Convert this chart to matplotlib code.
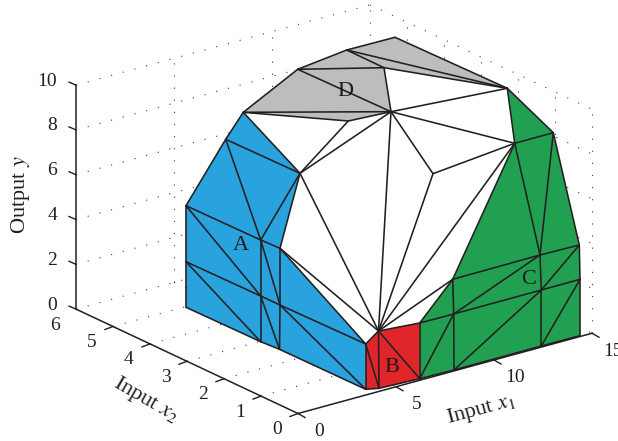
import numpy as np
import matplotlib
matplotlib.use('Agg')
import matplotlib.pyplot as plt
from matplotlib.collections import PolyCollection

plt.rcParams['font.family'] = ['Liberation Serif', 'DejaVu Serif']
plt.rcParams['mathtext.fontset'] = 'stix'

# axis ticks
x1_ticks = [0, 5, 10, 15]
x2_ticks = [0, 1, 2, 3, 4, 5, 6]
y_ticks = [0, 2, 4, 6, 8, 10]

# projected picture position of the box corner and the axis directions (per unit)
origin = np.array([298.0, 413.5])
dir_x1 = np.array([19.6, -5.35])
dir_x2 = np.array([-37.0, -17.4])
dir_y = np.array([0.0, -22.4])

# mesh vertices
P = {
    'a': (186, 205.7), 'b': (186, 261.7), 'c': (186, 307.3),
    'd': (260.7, 240), 'e': (280, 248.3), 'f': (260.7, 296), 'g': (280, 305),
    'h': (260.7, 341.7), 'i': (279.5, 349.3), 'j': (365.7, 344), 'k': (365.7, 389.3),
    'u1': (243.3, 112.3), 'u2': (225.7, 139.3), 'u3': (300, 173.3),
    'v1': (297.7, 69.3), 'v2': (346.7, 50), 'v3': (395, 37.3), 'v4': (507.3, 88.3),
    'v5': (384, 67.7), 'v6': (391, 111.7), 'v7': (348.3, 121),
    'w1': (514.7, 143.3), 'w2': (433, 173.7), 'p': (378.5, 331),
    's1': (553.3, 132.7), 's2': (579.3, 245), 's3': (580, 279.3), 's4': (580, 335.7),
    'm1': (540, 255), 'm2': (541.3, 290), 'm3': (541.3, 346),
    'n1': (452.7, 279.3), 'n2': (453.7, 314), 'n3': (454, 370),
    'r1': (419.7, 323), 'r2': (419.7, 378.7), 'r3': (379, 388.3),
}

white_outline = ['u3', 'u1', 'v7', 'v6', 'v5', 'v4', 'w1', 'n1', 'r1', 'p', 'j', 'e']
blue_outline = ['a', 'u2', 'u1', 'u3', 'e', 'j', 'k', 'i', 'h', 'c']
gray_outline = ['u1', 'v1', 'v2', 'v3', 'v4', 'v5', 'v6', 'v7']
green_outline = ['v4', 's1', 's2', 's3', 's4', 'm3', 'n3', 'r2', 'r1', 'n1', 'w1']
red_outline = ['j', 'p', 'r1', 'r2', 'r3', 'k']

edges = [
    # blue
    ('a', 'c'), ('c', 'h'), ('h', 'i'), ('i', 'k'), ('a', 'u2'), ('u2', 'u1'), ('u1', 'u3'),
    ('u2', 'u3'), ('u2', 'd'), ('u3', 'd'), ('u3', 'e'), ('a', 'd'), ('d', 'e'),
    ('a', 'f'), ('b', 'f'), ('f', 'g'), ('b', 'h'), ('d', 'f'), ('f', 'h'), ('e', 'g'), ('g', 'i'),
    ('d', 'g'), ('f', 'i'), ('g', 'j'), ('g', 'k'), ('e', 'j'), ('j', 'k'),
    # gray
    ('u1', 'v1'), ('v1', 'v2'), ('v2', 'v3'), ('v3', 'v4'), ('v2', 'v4'), ('v5', 'v4'),
    ('v2', 'v5'), ('v1', 'v5'), ('v1', 'v6'), ('v5', 'v6'), ('u1', 'v6'), ('u1', 'v7'), ('v7', 'v6'),
    # white
    ('v6', 'v4'), ('v6', 'w1'), ('v6', 'w2'), ('w2', 'w1'), ('v6', 'p'), ('w2', 'p'), ('w1', 'p'),
    ('v7', 'u3'), ('v6', 'u3'), ('u3', 'p'), ('e', 'p'), ('p', 'n1'), ('p', 'r1'), ('p', 'j'),
    # green
    ('v4', 's1'), ('v4', 'w1'), ('w1', 's1'), ('w1', 'm1'), ('s1', 'm1'), ('s1', 's2'),
    ('w1', 'n1'), ('s2', 's3'), ('s3', 's4'), ('s4', 'm3'), ('m3', 'n3'), ('n3', 'r2'),
    ('n1', 'm1'), ('m1', 's2'), ('r1', 'n2'), ('n2', 'm2'), ('m2', 's3'), ('n2', 'm1'),
    ('n3', 'm2'), ('m2', 's2'), ('m3', 's3'), ('r2', 'n2'), ('n1', 'n2'), ('n2', 'n3'),
    ('m1', 'm2'), ('m2', 'm3'), ('r1', 'r2'), ('n1', 'r1'),
    # red
    ('r2', 'r3'), ('r3', 'k'), ('j', 'r3'), ('p', 'r3'), ('p', 'r2'),
]

region_labels = ['A', 'B', 'C', 'D']
region_pos = [(241, 246), (392, 368), (529, 280), (345, 91)]


def proj(x1, x2, y):
    return origin + x1 * dir_x1 + x2 * dir_x2 + y * dir_y


def dotted(ax, start, end):
    pts = np.array([start, end])
    ax.plot(pts[:, 0], pts[:, 1], color='#3a3a3a', lw=0.8, ls=(0, (1, 9.9)), zorder=1)


fig = plt.figure(figsize=(6.18, 4.41), dpi=100)
ax = fig.add_axes([0, 0, 1, 1])
ax.set_xlim(0, 618)
ax.set_ylim(441, 0)
ax.axis('off')

# dotted grid on the back walls and the floor
for y in y_ticks:
    dotted(ax, proj(0, 6, y), proj(15, 6, y))
    dotted(ax, proj(15, 6, y), proj(15, 0, y))
for x1 in x1_ticks[1:3]:
    dotted(ax, proj(x1, 6, 0), proj(x1, 6, 10))
    dotted(ax, proj(x1, 6, 0), proj(x1, 0, 0))
for x2 in x2_ticks[1:6]:
    dotted(ax, proj(15, x2, 0), proj(15, x2, 10))
    dotted(ax, proj(0, x2, 0), proj(15, x2, 0))
dotted(ax, proj(15, 6, 0), proj(15, 6, 10))
dotted(ax, proj(15, 0, 0), proj(15, 0, 10))

# faces
outlines = [white_outline, blue_outline, gray_outline, green_outline, red_outline]
colors = ['white', '#29A3DE', '#BBBDBF', '#22A052', '#E1262B']
polys = [[P[n] for n in o] for o in outlines]
ax.add_collection(PolyCollection(polys, facecolors=colors, edgecolors='none', zorder=2))

# mesh lines
for s, t in edges:
    ax.plot([P[s][0], P[t][0]], [P[s][1], P[t][1]], color='#231F20', lw=1.15, zorder=3,
            solid_capstyle='round')

# axes lines
axis_col = '#231F20'
ends = [(proj(0, 6, 0), proj(0, 6, 10)), (proj(0, 6, 0), proj(0, 0, 0)), (proj(0, 0, 0), proj(15, 0, 0))]
for s, t in ends:
    ax.plot([s[0], t[0]], [s[1], t[1]], color=axis_col, lw=1.1, zorder=4)

tick_font = 14
label_font = 16
for y in y_ticks:
    p = proj(0, 6, y)
    ax.plot([p[0], p[0] - 7], [p[1], p[1] - 3], color=axis_col, lw=1.0, zorder=4)
    ax.text(p[0] - 19, p[1] - 4, str(y), ha='right', va='center', fontsize=tick_font, color=axis_col)
for x2 in x2_ticks:
    p = proj(0, x2, 0)
    if x2 < 6:
        ax.plot([p[0], p[0] - 8], [p[1], p[1] + 3], color=axis_col, lw=1.0, zorder=4)
    ax.text(p[0] - 21, p[1] + 16, str(x2), ha='center', va='center', fontsize=tick_font, color=axis_col)
for x1 in x1_ticks:
    p = proj(x1, 0, 0)
    ax.plot([p[0], p[0] + 7], [p[1], p[1] + 4], color=axis_col, lw=1.0, zorder=4)
    ax.text(p[0] + 21, p[1] + 18, str(x1), ha='center', va='center', fontsize=tick_font, color=axis_col)

ax.text(21, 195, 'Output $y$', rotation=90, ha='center', va='center', fontsize=label_font, color=axis_col)
ax.text(146, 400, 'Input $x_2$', rotation=-30, rotation_mode='anchor', ha='center', va='center',
        fontsize=label_font, color=axis_col)
ax.text(481, 410, 'Input $x_1$', rotation=15, rotation_mode='anchor', ha='center', va='center',
        fontsize=label_font, color=axis_col)

for name, pos in zip(region_labels, region_pos):
    ax.text(pos[0], pos[1], name, ha='center', va='center', fontsize=label_font, color='#1a1a1a', zorder=5)

fig.savefig('out.png', dpi=100)
